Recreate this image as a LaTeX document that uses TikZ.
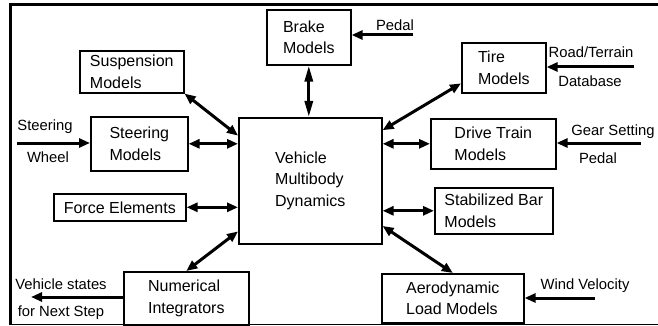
\documentclass[tikz,border=0pt]{standalone}
\usepackage{fontspec}
\setmainfont{Liberation Sans}
\usetikzlibrary{arrows.meta}

\begin{document}
\begin{tikzpicture}[x=1pt,y=-1pt]
\tikzstyle{model}=[draw,line width=1.6pt,align=left,inner sep=0pt,anchor=north west,font=\fontsize{16}{21.5}\selectfont]
\tikzstyle{cue}=[inner sep=0pt,font=\fontsize{14.8}{17}\selectfont]
\tikzstyle{link}=[line width=3pt,{Triangle[length=11pt,width=9pt]}-{Triangle[length=11pt,width=9pt]}]
\tikzstyle{feed}=[line width=3pt,-{Triangle[length=11pt,width=9pt]}]
\useasboundingbox (0,0) rectangle (658,326);
% frame
\draw[line width=3pt] (10,4.5) -- (660,4.5);
\draw[line width=2.5pt] (10.5,3) -- (10.5,324.5);
\draw[line width=1pt] (10,324.5) -- (660,324.5);
% models
\node[model,minimum width=143pt,minimum height=126pt] (vmd) at (238,117) {Vehicle\\Multibody\\Dynamics};
\node[model,minimum width=84pt,minimum height=55pt] (brake) at (266,9) {Brake\\Models};
\node[model,minimum width=104pt,minimum height=42pt] (susp) at (79,50) {Suspension\\Models};
\node[model,minimum width=97pt,minimum height=54pt] (steer) at (90,116) {Steering\\Models};
\node[model,minimum width=84pt,minimum height=50pt] (tire) at (461,42) {Tire\\Models};
\node[model,minimum width=125pt,minimum height=50pt] (drive) at (430,118) {Drive Train\\Models};
\node[model,minimum width=132pt,minimum height=27pt] (force) at (53,193) {Force Elements};
\node[model,minimum width=118pt,minimum height=46pt] (stab) at (434,187) {Stabilized Bar\\Models};
\node[model,minimum width=125pt,minimum height=53pt] (numer) at (123,271) {Numerical\\Integrators};
\node[model,minimum width=142pt,minimum height=49pt] (aero) at (381,273) {Aerodynamic\\Load Models};
% outside inputs
\coordinate (pedal) at (413,35);
\coordinate (road) at (634,67);
\coordinate (gear) at (641,143);
\coordinate (wind) at (595,298);
\coordinate (wheel) at (17,143);
\coordinate (next) at (31,297);
\node[cue] at (395,25) {Pedal};
\node[cue] at (591,52) {Road/Terrain};
\node[cue] at (590,81) {Database};
\node[cue] at (613,132) {Gear Setting};
\node[cue] at (598,158) {Pedal};
\node[cue] at (585,286) {Wind Velocity};
\node[cue] at (45,127) {Steering};
\node[cue] at (48,157) {Wheel};
\node[cue] at (61,284) {Vehicle states};
\node[cue] at (61,313) {for Next Step};
\draw[feed] (pedal) -- (pedal -| brake.east);
\draw[feed] (road) -- (road -| tire.east);
\draw[feed] (gear) -- (gear -| drive.east);
\draw[feed] (wind) -- (wind -| aero.east);
\draw[feed] (wheel) -- (wheel -| steer.west);
\draw[feed] (numer.west |- next) -- (next);
% links to the multibody model
\draw[link] (susp.south east) -- (vmd.148);
\draw[link,{Triangle[length=16pt,width=8pt]}-{Triangle[length=16pt,width=8pt]}] (brake.south) -- (brake.south |- vmd.north);
\draw[link] (steer.east) -- (steer.east -| vmd.west);
\draw[link] (force.east) -- (force.east -| vmd.west);
\draw[link] (numer.north) -- (vmd.215);
\draw[link] (tire.200) -- (vmd.35);
\draw[link] (drive.west) -- (drive.west -| vmd.east);
\draw[link] (stab.west) -- (stab.west -| vmd.east);
\draw[link] (aero.north) -- (vmd.-32);
\end{tikzpicture}
\end{document}
